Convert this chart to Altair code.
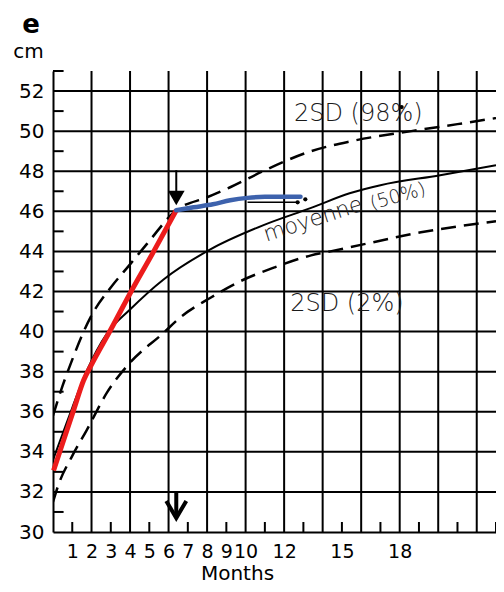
import altair as alt
import pandas as pd

# ---- data ----
month_labels = [1, 2, 3, 4, 5, 6, 7, 8, 9, 10, 12, 15, 18]
cm_labels = list(range(30, 53, 2))
grid_months = list(range(2, 23, 2))
grid_cm = list(range(32, 53, 2))
minor_months = list(range(1, 24, 2))
minor_cm = list(range(31, 54, 2))

upper_m = [0, 0.5, 1.0, 1.5, 2.0, 3.0, 4.0, 4.9, 6.4, 8.0, 9.2, 10.9, 13.4, 15.5, 18.6, 21.0, 23.4]
upper_cm = [35.8, 37.3, 38.6, 39.8, 40.8, 42.2, 43.35, 44.4, 46.05, 46.7, 47.2, 48.0, 49.0, 49.5, 50.0, 50.35, 50.65]

mean_m = [0, 0.5, 1.0, 1.77, 2.8, 4.0, 5.74, 8.17, 10.9, 13.4, 15.4, 17.0, 20.1, 23.4]
mean_cm = [33.6, 34.9, 36.2, 38.07, 39.9, 41.1, 42.6, 44.1, 45.3, 46.17, 46.9, 47.3, 47.8, 48.3]

lower_m = [0, 0.3, 1.0, 1.76, 2.8, 4.0, 5.7, 6.6, 8.2, 9.7, 11.5, 13.4, 14.4, 16.1, 19.1, 23.4]
lower_cm = [31.5, 32.4, 33.8, 35.1, 36.95, 38.45, 39.9, 40.7, 41.7, 42.5, 43.2, 43.8, 44.0, 44.35, 44.95, 45.5]

red_m = [0.03, 0.55, 1.07, 1.59, 2.0, 3.0, 4.0, 5.2, 6.4]
red_cm = [33.07, 34.58, 36.08, 37.57, 38.35, 40.1, 41.9, 43.95, 46.05]

blue_m = [6.4, 7.3, 8.3, 9.2, 10.1, 11.0, 12.85]
blue_cm = [46.05, 46.2, 46.35, 46.55, 46.67, 46.72, 46.72]

hand_m = [10.1, 12.7]
hand_cm = [46.45, 46.45]
dots_m = [12.7, 13.1, 18.1]
dots_cm = [46.45, 46.6, 51.2]

# arrows (month 6.4)
arrow_m = 6.4
top_shaft_cm = [48.05, 46.7]
top_head_cm = 46.66
bottom_arrow_m = [5.88, 6.4, 6.92]
bottom_arrow_cm = [31.55, 30.7, 31.55]
bottom_shaft_cm = [31.95, 30.75]

X_MAX = 23.0
Y_MIN, Y_MAX = 30, 53
W, H = 443, 461
FONT = "DejaVu Sans"

xscale = alt.Scale(domain=[0, X_MAX], nice=False, zero=False, clamp=True)
yscale = alt.Scale(domain=[Y_MIN, Y_MAX], nice=False, zero=False)
xaxis = alt.Axis(values=month_labels, ticks=False, grid=False, domainColor="black",
                 domainWidth=2, labelFont=FONT, labelFontSize=19, labelColor="black",
                 labelPadding=10, labelOverlap=False, labelFlush=False,
                 title="Months", titleFont=FONT, titleFontSize=20, titleFontWeight="normal",
                 titleColor="black", titleX=184, titleY=47, titleAlign="center",
                 titleBaseline="alphabetic")
yaxis = alt.Axis(values=cm_labels, ticks=False, grid=False, domainColor="black",
                 domainWidth=2, labelFont=FONT, labelFontSize=20, labelColor="black",
                 labelPadding=9, labelOverlap=False, labelFlush=False,
                 title="cm", titleFont=FONT, titleFontSize=20, titleFontWeight="normal",
                 titleColor="black", titleAngle=0, titleX=-25, titleY=-14,
                 titleAlign="center", titleBaseline="alphabetic")


def X(f="m"):
    return alt.X(f"{f}:Q", scale=xscale, axis=xaxis)


def Y(f="cm"):
    return alt.Y(f"{f}:Q", scale=yscale, axis=yaxis)


def line_df(ms, cms):
    return pd.DataFrame({"m": ms, "cm": cms, "o": range(len(ms))})


vgrid = alt.Chart(pd.DataFrame({"m": grid_months, "c0": Y_MIN, "c1": Y_MAX})).mark_rule(
    color="black", strokeWidth=2).encode(x=X(), y=Y("c0"), y2="c1")
hgrid = alt.Chart(pd.DataFrame({"cm": grid_cm, "m0": 0, "m1": X_MAX})).mark_rule(
    color="black", strokeWidth=2).encode(y=Y(), x=X("m0"), x2="m1")
xminor = alt.Chart(pd.DataFrame({"m": minor_months, "c0": Y_MIN, "c1": Y_MIN + 0.5})).mark_rule(
    color="black", strokeWidth=2).encode(x=X(), y=Y("c0"), y2="c1")
yminor = alt.Chart(pd.DataFrame({"cm": minor_cm, "m0": 0, "m1": 0.55})).mark_rule(
    color="black", strokeWidth=2).encode(y=Y(), x=X("m0"), x2="m1")

dash = [15, 8]
upper = alt.Chart(line_df(upper_m, upper_cm)).mark_line(
    color="black", strokeWidth=2.5, strokeDash=dash, interpolate="monotone", clip=True).encode(
    x=X(), y=Y(), order="o:Q")
lower = alt.Chart(line_df(lower_m, lower_cm)).mark_line(
    color="black", strokeWidth=2.5, strokeDash=dash, interpolate="monotone", clip=True).encode(
    x=X(), y=Y(), order="o:Q")
mean = alt.Chart(line_df(mean_m, mean_cm)).mark_line(
    color="black", strokeWidth=2, interpolate="monotone", clip=True).encode(
    x=X(), y=Y(), order="o:Q")
hand = alt.Chart(line_df(hand_m, hand_cm)).mark_line(
    color="black", strokeWidth=1.5).encode(x=X(), y=Y(), order="o:Q")
dots = alt.Chart(line_df(dots_m, dots_cm)).mark_point(
    color="black", filled=True, size=18, opacity=1).encode(x=X(), y=Y())
red = alt.Chart(line_df(red_m, red_cm)).mark_line(
    color="#ec1c1c", strokeWidth=5, interpolate="monotone").encode(
    x=X(), y=Y(), order="o:Q")
blue = alt.Chart(line_df(blue_m, blue_cm)).mark_line(
    color="#3d62ad", strokeWidth=4.5, interpolate="monotone", strokeCap="round").encode(
    x=X(), y=Y(), order="o:Q")

top_shaft = alt.Chart(line_df([arrow_m, arrow_m], top_shaft_cm)).mark_line(
    color="black", strokeWidth=2).encode(x=X(), y=Y(), order="o:Q")
top_head = alt.Chart(pd.DataFrame({"m": [arrow_m], "cm": [top_head_cm]})).mark_point(
    shape="triangle-down", filled=True, color="black", size=280, opacity=1).encode(x=X(), y=Y())
bot_shaft = alt.Chart(line_df([arrow_m, arrow_m], bottom_shaft_cm)).mark_line(
    color="black", strokeWidth=4).encode(x=X(), y=Y(), order="o:Q")
bot_head = alt.Chart(line_df(bottom_arrow_m, bottom_arrow_cm)).mark_line(
    color="black", strokeWidth=4, strokeJoin="miter").encode(x=X(), y=Y(), order="o:Q")


def label(txt, m, cm, size, angle=0):
    return alt.Chart(pd.DataFrame({"m": [m], "cm": [cm], "t": [txt]})).mark_text(
        font=FONT, fontSize=size, color="#1a1a1a", align="center", baseline="middle",
        angle=angle, fontWeight=300).encode(x=X(), y=Y(), text="t:N")


t98 = label("2SD (98%)", 15.85, 50.85, 24)
t2 = label("2SD (2%)", 15.26, 41.38, 24)
tmoy = label("moyenne", 13.5, 45.6, 22, 342)
t50 = label("(50%)", 17.9, 46.75, 19, 344)

panel_letter = alt.Chart(pd.DataFrame({"t": ["e"]})).mark_text(
    font=FONT, fontSize=26, fontWeight="bold", color="black", align="center",
    baseline="alphabetic").encode(text="t:N", x=alt.value(-22), y=alt.value(-38))

chart = alt.layer(
    vgrid, hgrid, xminor, yminor, upper, lower, mean, hand, red, blue, dots,
    top_shaft, top_head, bot_shaft, bot_head, t98, t2, tmoy, t50, panel_letter
).properties(
    width=W, height=H,
    autosize=alt.AutoSizeParams(type="none"),
    padding={"left": 45, "top": 63, "right": 0, "bottom": 52},
).configure_view(stroke=None)

chart.save("out.html", embed_options={"renderer": "svg", "actions": False})
